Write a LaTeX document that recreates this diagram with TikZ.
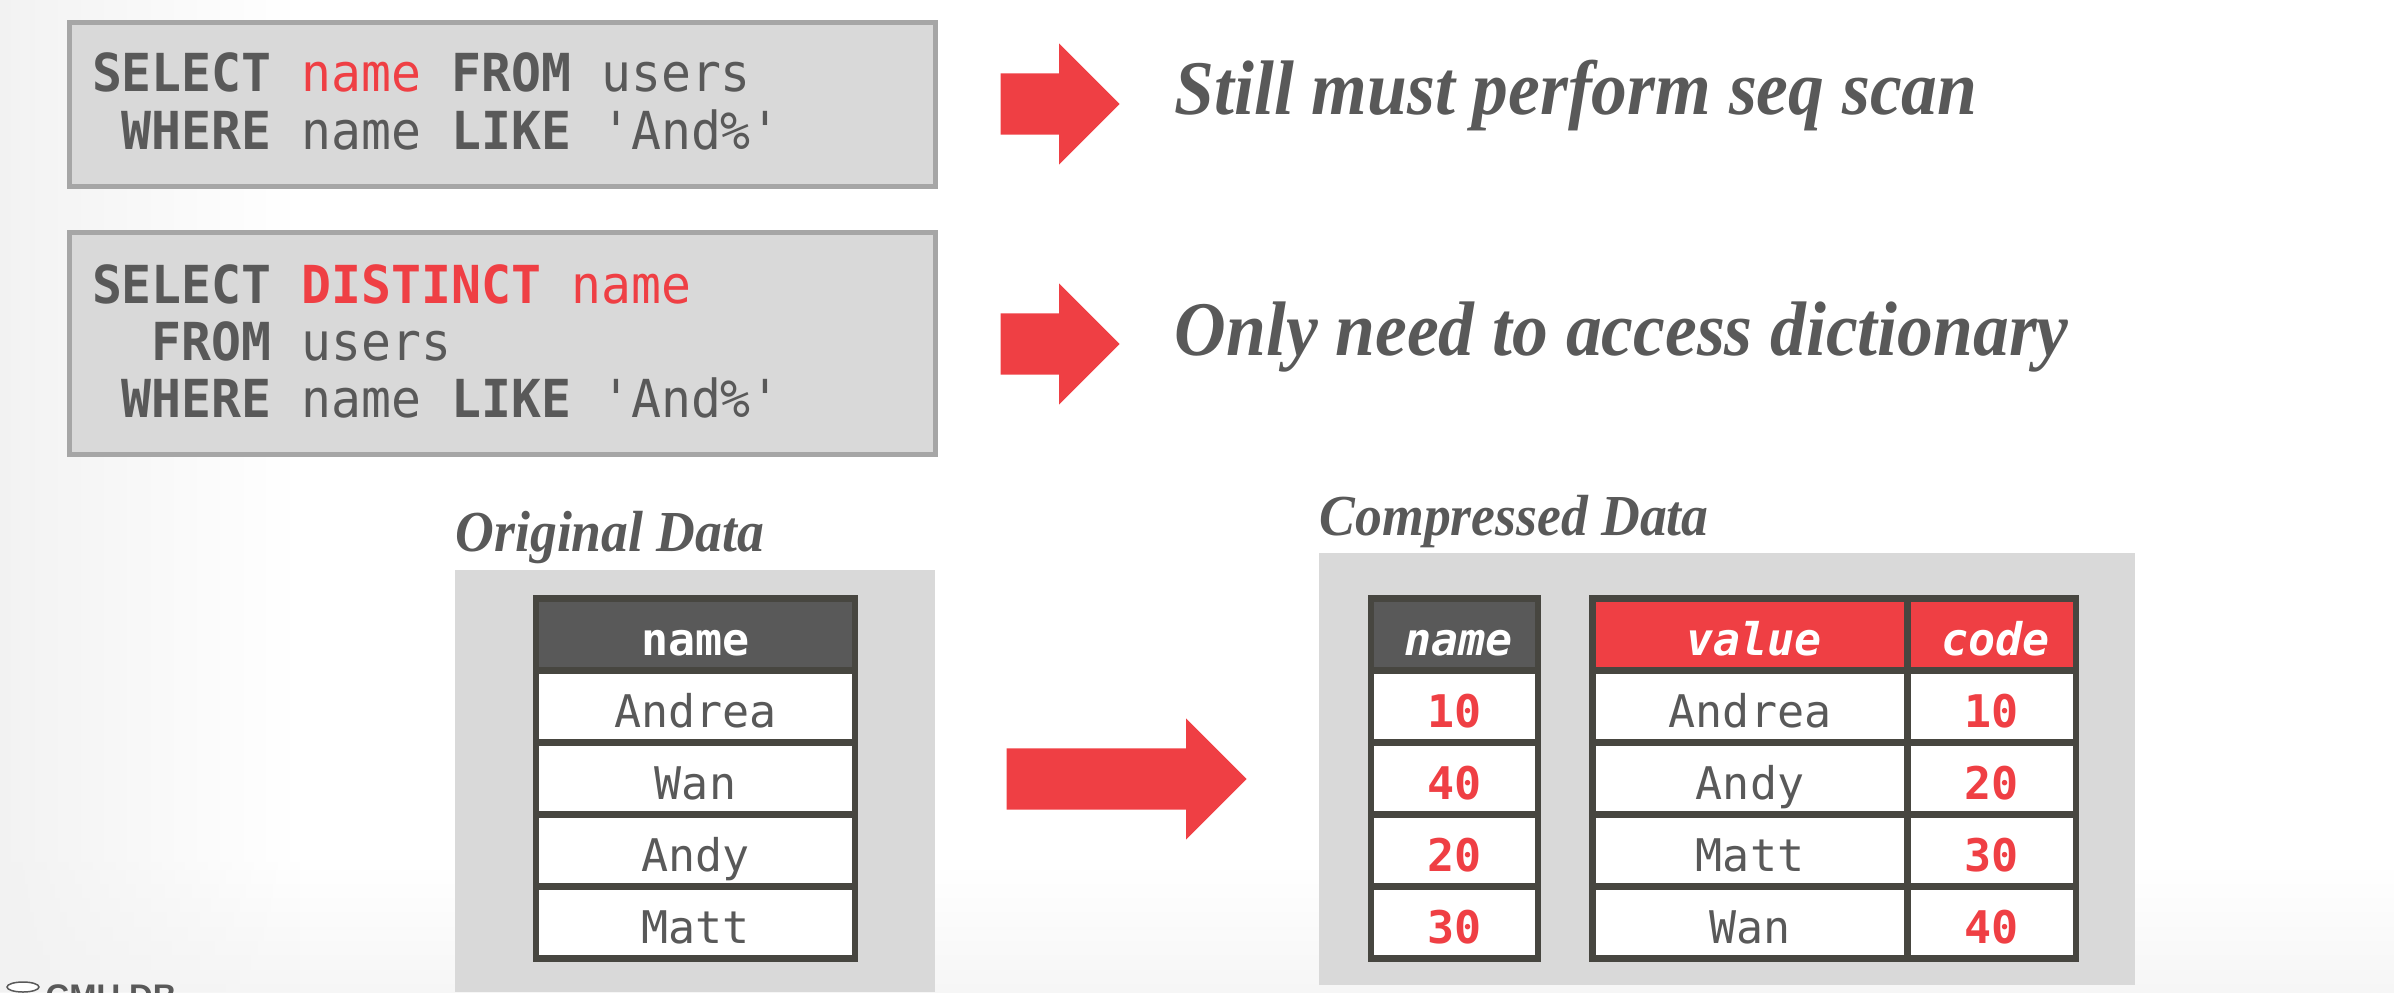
\documentclass[tikz,border=0pt]{standalone}
\usepackage{fontspec}
\setmainfont[FakeStretch=.925]{Liberation Serif}
\setsansfont{Liberation Sans}
\setmonofont{DejaVu Sans Mono}
\newfontfamily\queryfont[FakeStretch=.95]{DejaVu Sans Mono}
\usetikzlibrary{shapes.arrows,shapes.geometric,fadings}
\definecolor{slidered}{HTML}{EF3F44}
\definecolor{slidegray}{HTML}{595959}
\definecolor{panelgray}{HTML}{D9D9D9}
\definecolor{edgegray}{HTML}{A6A6A6}
\definecolor{gridgray}{HTML}{474640}
\definecolor{bggray}{HTML}{F2F2F2}
\tikzset{
  querybox/.style={draw=edgegray,fill=panelgray,line width=.05cm,inner xsep=.23cm,inner ysep=0pt,
    text width=8.2cm,align=flush left,text=slidegray,font=\queryfont\fontsize{14.9}{16.25}\selectfont},
  remark/.style={anchor=base west,inner sep=0pt,text=slidegray,font=\bfseries\itshape\fontsize{22}{26}\selectfont},
  heading/.style={anchor=base west,inner sep=0pt,text=slidegray,font=\bfseries\itshape\fontsize{16.5}{20}\selectfont},
  panel/.style={fill=panelgray,inner sep=0pt},
  bigarrow/.style={single arrow,anchor=tail,fill=slidered,inner xsep=0pt,inner ysep=.3cm,minimum width=1.2cm,single arrow head extend=.3cm},
  cell/.style={draw=gridgray,fill=white,line width=.065cm,inner sep=0pt,minimum height=.72cm,
    text height=.41cm,text depth=0pt,text=slidegray,font=\ttfamily\fontsize{12.8}{14}\selectfont},
  codecell/.style={cell,text=slidered,font=\ttfamily\bfseries\fontsize{12.8}{14}\selectfont},
  headcell/.style={cell,fill=slidegray,text=white,font=\ttfamily\bfseries\fontsize{12.8}{14}\selectfont},
  headitalic/.style={headcell,font=\ttfamily\bfseries\itshape\fontsize{12.8}{14}\selectfont,execute at begin node=\hspace*{.08cm}},
  redcell/.style={headitalic,fill=slidered},
  logotext/.style={anchor=base west,inner sep=0pt,text=slidegray,font=\sffamily\bfseries\fontsize{9.3}{10}\selectfont},
  logodisk/.style={ellipse,draw=slidegray,fill=white,line width=.015cm,inner sep=0pt,minimum width=.32cm,minimum height=.1cm}
}
\newcommand{\redword}[1]{\textcolor{slidered}{#1}}
\begin{document}
\begin{tikzpicture}
  \useasboundingbox (0,0) rectangle (23.94,9.92);
  \shade[bottom color=bggray!70,top color=white] (0,0) rectangle (23.94,1.3);
  \fill[bggray,path fading=east] (0,0) rectangle (3,9.92);
  \draw
    (5.02,8.875) node[querybox,text depth=.64cm,minimum height=1.64cm] (query1){\textbf{SELECT} \redword{name} \textbf{FROM} users\\
      \ \textbf{WHERE} name \textbf{LIKE} 'And\%'}
    (5.02,6.4875) node[querybox,text depth=1.19cm,minimum height=2.225cm] (query2){\textbf{SELECT} \redword{\textbf{DISTINCT} name}\\
      \ \ \textbf{FROM} users\\
      \ \textbf{WHERE} name \textbf{LIKE} 'And\%'};
  \draw
    (10,8.88) node[bigarrow,minimum height=1.19cm] (arrow1){}
    (10,6.48) node[bigarrow,minimum height=1.19cm] (arrow2){}
    (10.06,2.13) node[bigarrow,minimum height=2.4cm] (arrow3){};
  \draw
    (11.74,8.77) node[remark] (remark1){Still must perform seq scan}
    (11.74,6.37) node[remark] (remark2){Only need to access dictionary};
  \draw
    (6.95,2.11) node[panel,minimum width=4.8cm,minimum height=4.22cm] (panelorig){}
    (17.27,2.235) node[panel,minimum width=8.16cm,minimum height=4.32cm] (panelcomp){};
  \draw
    (4.55,4.41) node[heading] (headorig){Original Data}
    (13.19,4.57) node[heading] (headcomp){Compressed Data};
  \begin{scope}[every node/.append style={minimum width=3.19cm}]
    \draw
      (6.955,3.575) node[headcell] (origname){name}
      (6.955,2.855) node[cell] (orig1){Andrea}
      (6.955,2.135) node[cell] (orig2){Wan}
      (6.955,1.415) node[cell] (orig3){Andy}
      (6.955,0.695) node[cell] (orig4){Matt};
  \end{scope}
  \begin{scope}[every node/.append style={minimum width=1.67cm}]
    \draw
      (14.545,3.575) node[headitalic] (compname){name}
      (14.545,2.855) node[codecell] (comp1){10}
      (14.545,2.135) node[codecell] (comp2){40}
      (14.545,1.415) node[codecell] (comp3){20}
      (14.545,0.695) node[codecell] (comp4){30};
  \end{scope}
  \begin{scope}[every node/.append style={minimum width=3.15cm}]
    \draw
      (17.5,3.575) node[redcell] (dictvalue){value}
      (17.5,2.855) node[cell] (value1){Andrea}
      (17.5,2.135) node[cell] (value2){Andy}
      (17.5,1.415) node[cell] (value3){Matt}
      (17.5,0.695) node[cell] (value4){Wan};
  \end{scope}
  \begin{scope}[every node/.append style={minimum width=1.685cm}]
    \draw
      (19.9175,3.575) node[redcell] (dictcode){code}
      (19.9175,2.855) node[codecell] (code1){10}
      (19.9175,2.135) node[codecell] (code2){20}
      (19.9175,1.415) node[codecell] (code3){30}
      (19.9175,0.695) node[codecell] (code4){40};
  \end{scope}
  \draw
    (.23,.05) node[logodisk] (logodisk){}
    (.45,-.15) node[logotext] (logotext){CMU DB};
\end{tikzpicture}
\end{document}
